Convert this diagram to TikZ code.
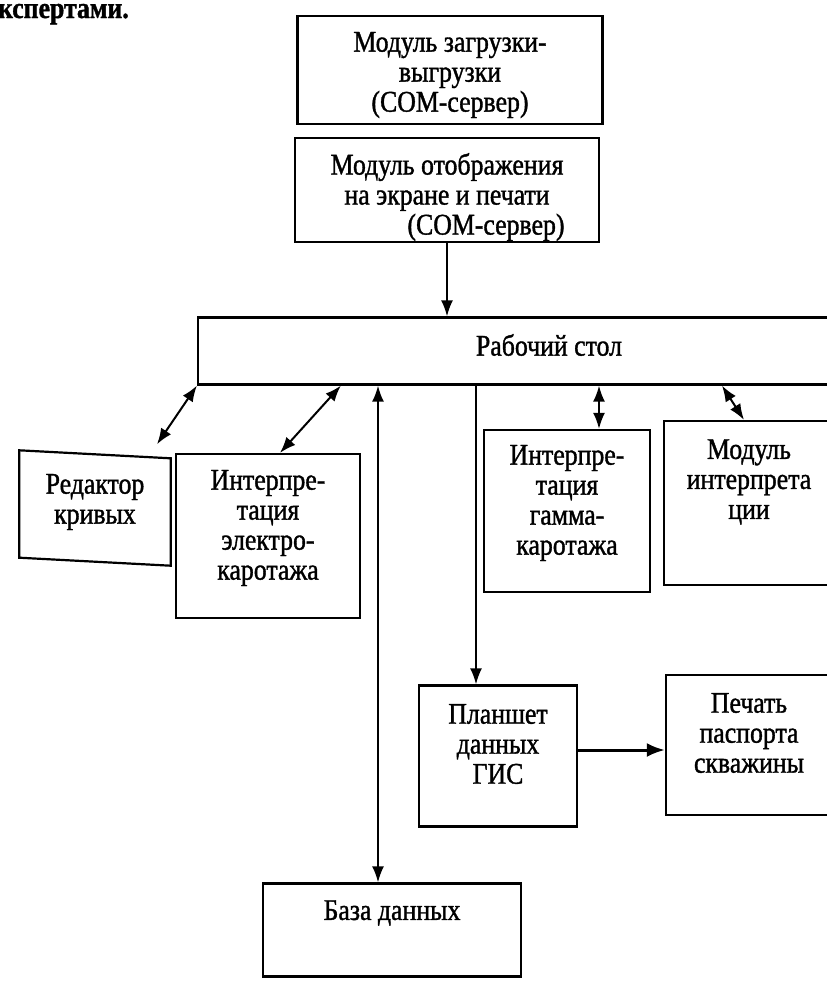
\documentclass[tikz,border=0pt]{standalone}
\usepackage{fontspec}
\setmainfont{Liberation Serif}[FakeStretch=0.86,FakeBold=1.2]
\usetikzlibrary{positioning,arrows.meta}

\begin{document}
\begin{tikzpicture}[x=1pt,y=-1pt,
	blok/.style={draw,line width=2.2pt},
	txt/.style={align=center,inner sep=0pt,font=\fontsize{30}{30}\selectfont},
	strel/.style={line width=2pt,-{Latex[length=16pt,width=12pt]}},
	dvoi/.style={line width=2pt,{Latex[length=16pt,width=12pt]}-{Latex[length=16pt,width=12pt]}}]
	\clip (0,0) rectangle (827,983); %рамка
	\node[txt,anchor=base east,font=\fontsize{30}{30}\selectfont\bfseries] (eksp) at (129,18) {экспертами.};
	% модули COM
	\node[blok,minimum width=305,minimum height=108] (zagr) at (450,70) {};
	\node[txt] (zagrT) at ([yshift=-5]zagr.center) {Модуль загрузки-\\выгрузки\\(COM-сервер)};
	\node[blok,minimum width=304,minimum height=104] (otobr) at (447,190) {};
	\node[txt] (otobrT) at ([yshift=-7]otobr.center) {Модуль отображения\\на экране и печати\\\hspace*{78pt}(COM-сервер)};
	% рабочий стол
	\node[blok,minimum width=702,minimum height=67] (stol) at (549,351) {};
	\node[txt] (stolT) at ([yshift=6]stol.center) {Рабочий стол};
	% редактор
	\node[minimum width=151,minimum height=107] (redak) at (95,508) {};
	\draw[blok] ([yshift=4]redak.north west) -- ([yshift=-4]redak.north east)
		-- ([yshift=-4]redak.south east) -- ([yshift=4]redak.south west) -- cycle;
	\node[txt] (redakT) at ([yshift=6]redak.center) {Редактор\\кривых};
	\node[blok,minimum width=184,minimum height=164] (elek) at (268,536) {};
	\node[txt] (elekT) at ([yshift=8]elek.center) {Интерпре-\\тация\\электро-\\каротажа};
	\node[blok,minimum width=166,minimum height=162] (gamma) at (567,511) {};
	\node[txt] (gammaT) at ([yshift=8]gamma.center) {Интерпре-\\тация\\гамма-\\каротажа};
	\node[blok,minimum width=170,minimum height=164] (modul) at (749,503) {};
	\node[txt] (modulT) at ([yshift=21]modul.center) {Модуль\\интерпрета\\ции};
	\node[blok,minimum width=158,minimum height=141] (plansh) at (498,756) {};
	\node[txt] (planshT) at ([yshift=12]plansh.center) {Планшет\\данных\\ГИС};
	\node[blok,minimum width=166,minimum height=140] (pechat) at (749,745) {};
	\node[txt] (pechatT) at ([yshift=12]pechat.center) {Печать\\паспорта\\скважины};
	\node[blok,minimum width=258,minimum height=93] (baza) at (392,930) {};
	\node[txt] (bazaT) at ([yshift=17]baza.center) {База данных};
	% связи
	\draw[strel] (otobr.south) -- (otobr.south |- stol.north);
	\draw[dvoi] ([shift={(62,-10)}]redak.north) -- (stol.south west);
	\draw[dvoi] ([xshift=12pt]elek.north) -- ([xshift=144pt]stol.south west);
	\draw[dvoi] ([xshift=-14pt]baza.north |- stol.south) -- ([xshift=-14pt]baza.north);
	\draw[strel] ([xshift=-22pt]plansh.north |- stol.south) -- ([xshift=-22pt]plansh.north);
	\draw[dvoi] ([xshift=32pt]gamma.north |- stol.south) -- ([xshift=32pt]gamma.north);
	\draw[dvoi] ([xshift=-27pt]modul.north |- stol.south) -- ([xshift=-5pt]modul.north);
	\draw[line width=3pt,-{Latex[length=18pt,width=14pt]}] ([yshift=6pt]plansh.east) -- ([yshift=6pt]plansh.east -| pechat.west);
\end{tikzpicture}
\end{document}
